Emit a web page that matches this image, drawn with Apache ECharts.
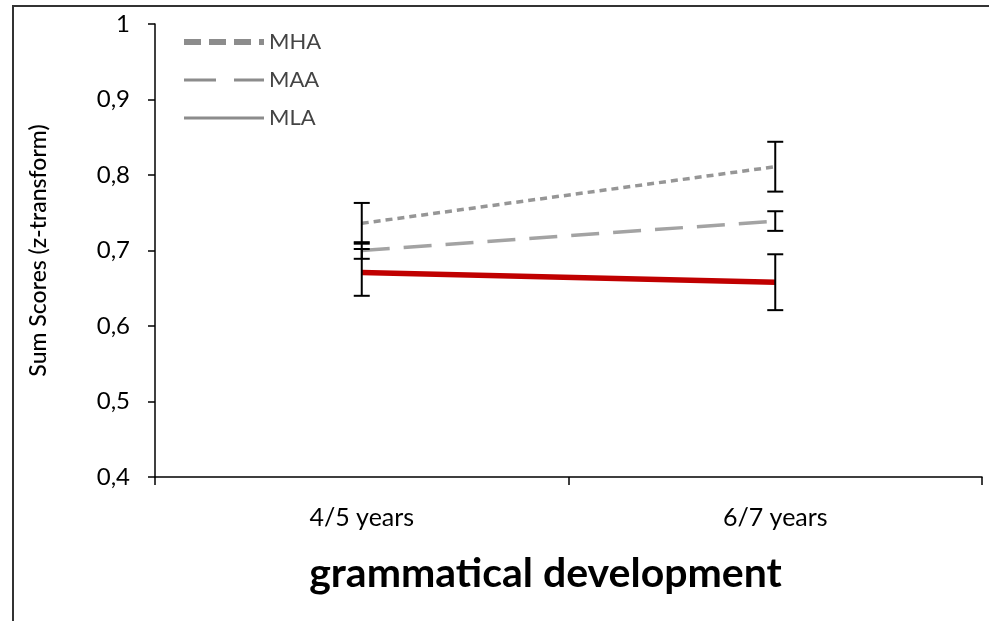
<!DOCTYPE html>
<html>
<head>
<meta charset="utf-8">
<script src="https://cdn.jsdelivr.net/npm/echarts@6/dist/echarts.min.js"></script>
<style>html,body{margin:0;padding:0;background:#fff}#c{width:989px;height:621px}</style>
</head>
<body>
<div id="c"></div>
<script>
const categories = ['4/5 years', '6/7 years'];
const seriesNames = ['MHA', 'MAA', 'MLA'];
const mha = [0.736, 0.811];
const maa = [0.700, 0.739];
const mla = [0.671, 0.658];
const mhaErr = [0.027, 0.033];
const maaErr = [0.011, 0.013];
const mlaErr = [0.031, 0.037];

const chart = echarts.init(document.getElementById('c'));
const FONT = 'Lato';

function errData(vals, errs) {
  return vals.map((v, i) => [i, v - errs[i], v + errs[i]]);
}
function errSeries(name, vals, errs) {
  return {
    type: 'custom',
    name: name + ' err',
    z: 5,
    silent: true,
    data: errData(vals, errs),
    renderItem: function (params, api) {
      const x = api.value(0);
      const lo = api.coord([x, api.value(1)]);
      const hi = api.coord([x, api.value(2)]);
      const hw = 8;
      const st = { stroke: '#000', lineWidth: 2 };
      return {
        type: 'group',
        children: [
          { type: 'line', shape: { x1: lo[0], y1: lo[1], x2: hi[0], y2: hi[1] }, style: st },
          { type: 'line', shape: { x1: lo[0] - hw, y1: lo[1], x2: lo[0] + hw, y2: lo[1] }, style: st },
          { type: 'line', shape: { x1: hi[0] - hw, y1: hi[1], x2: hi[0] + hw, y2: hi[1] }, style: st }
        ]
      };
    }
  };
}

const hidden = { color: 'rgba(0,0,0,0)', borderWidth: 0, opacity: 0 };

chart.setOption({
  animation: false,
  backgroundColor: '#fff',
  grid: { left: 155, top: 24, right: 7, bottom: 144 },
  legend: {
    orient: 'vertical',
    left: 176,
    top: 26,
    itemWidth: 80,
    itemHeight: 14,
    itemGap: 16,
    textStyle: { fontFamily: FONT, fontSize: 22, color: '#444' },
    data: [
      { name: 'MHA', itemStyle: hidden, lineStyle: { color: '#8c8c8c', width: 6, type: [17, 8] } },
      { name: 'MAA', itemStyle: hidden, lineStyle: { color: '#8c8c8c', width: 3, type: [32, 18] } },
      { name: 'MLA', itemStyle: hidden, lineStyle: { color: '#8c8c8c', width: 3, type: 'solid' } }
    ]
  },
  xAxis: {
    type: 'category',
    data: categories,
    boundaryGap: true,
    axisLine: { lineStyle: { color: '#000', width: 1.5 } },
    axisTick: { show: true, length: 8, lineStyle: { color: '#000', width: 1.5 } },
    axisLabel: { fontFamily: FONT, fontSize: 25, color: '#000', margin: 28 },
    name: 'grammatical development',
    nameLocation: 'middle',
    nameGap: 76,
    nameTextStyle: { fontFamily: FONT, fontSize: 41, fontWeight: 'bold', color: '#000', padding: [0, 46, 0, 0] }
  },
  yAxis: {
    type: 'value',
    min: 0.4,
    max: 1,
    interval: 0.1,
    splitLine: { show: false },
    axisLine: { show: true, lineStyle: { color: '#000', width: 1.5 } },
    axisTick: { show: true, length: 7, lineStyle: { color: '#000', width: 1.5 } },
    axisLabel: {
      fontFamily: FONT, fontSize: 24, color: '#000', margin: 25,
      formatter: function (v) {
        const r = Math.round(v * 10) / 10;
        return r === 1 ? '1' : r.toFixed(1).replace('.', ',');
      }
    },
    name: 'Sum Scores (z-transform)',
    nameLocation: 'middle',
    nameGap: 97,
    nameRotate: 90,
    nameTextStyle: { fontFamily: FONT, fontSize: 23, fontWeight: 500, color: '#000', padding: [0, 0, 8, 0] }
  },
  graphic: [
    { type: 'polyline', shape: { points: [[13, 621], [13, 6], [989, 6]] }, style: { stroke: '#333', lineWidth: 2, fill: null }, z: 0 }
  ],
  series: [
    { type: 'line', name: 'MHA', data: mha, symbol: 'none', z: 3,
      lineStyle: { color: '#969696', width: 3.5, type: [7, 5] } },
    { type: 'line', name: 'MAA', data: maa, symbol: 'none', z: 3,
      lineStyle: { color: '#a3a3a3', width: 3.5, type: [28, 14] } },
    { type: 'line', name: 'MLA', data: mla, symbol: 'none', z: 3,
      lineStyle: { color: '#c00000', width: 5.5, type: 'solid' } },
    errSeries('MHA', mha, mhaErr),
    errSeries('MAA', maa, maaErr),
    errSeries('MLA', mla, mlaErr)
  ]
});
</script>
</body>
</html>
